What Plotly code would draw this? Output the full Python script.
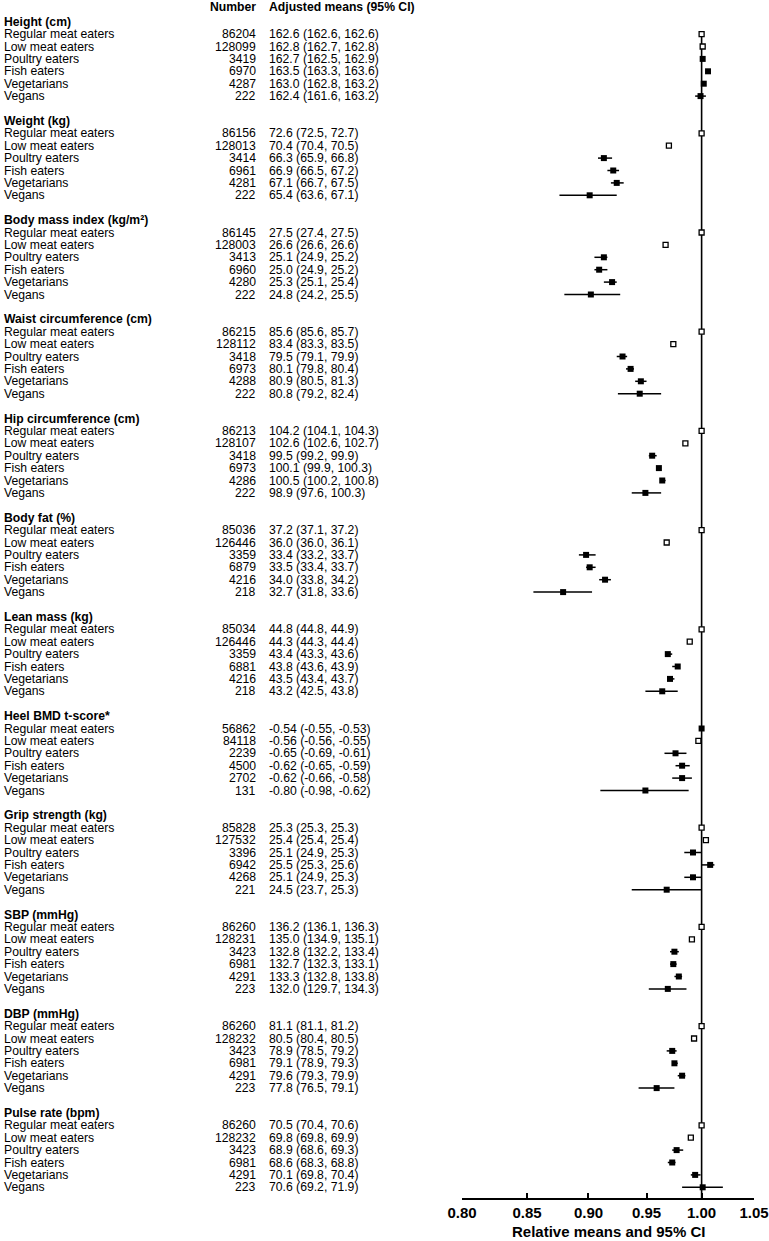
import math
import plotly.graph_objects as go

sections = ["Height (cm)", "Weight (kg)", "Body mass index (kg/m²)", "Waist circumference (cm)",
            "Hip circumference (cm)", "Body fat (%)", "Lean mass (kg)", "Heel BMD t-score*",
            "Grip strength (kg)", "SBP (mmHg)", "DBP (mmHg)", "Pulse rate (bpm)"]
groups = ["Regular meat eaters", "Low meat eaters", "Poultry eaters", "Fish eaters",
          "Vegetarians", "Vegans"]

numbers = [
    [86204, 128099, 3419, 6970, 4287, 222],
    [86156, 128013, 3414, 6961, 4281, 222],
    [86145, 128003, 3413, 6960, 4280, 222],
    [86215, 128112, 3418, 6973, 4288, 222],
    [86213, 128107, 3418, 6973, 4286, 222],
    [85036, 126446, 3359, 6879, 4216, 218],
    [85034, 126446, 3359, 6881, 4216, 218],
    [56862, 84118, 2239, 4500, 2702, 131],
    [85828, 127532, 3396, 6942, 4268, 221],
    [86260, 128231, 3423, 6981, 4291, 223],
    [86260, 128232, 3423, 6981, 4291, 223],
    [86260, 128232, 3423, 6981, 4291, 223],
]

adj_means = [
    ["162.6 (162.6, 162.6)", "162.8 (162.7, 162.8)", "162.7 (162.5, 162.9)",
     "163.5 (163.3, 163.6)", "163.0 (162.8, 163.2)", "162.4 (161.6, 163.2)"],
    ["72.6 (72.5, 72.7)", "70.4 (70.4, 70.5)", "66.3 (65.9, 66.8)",
     "66.9 (66.5, 67.2)", "67.1 (66.7, 67.5)", "65.4 (63.6, 67.1)"],
    ["27.5 (27.4, 27.5)", "26.6 (26.6, 26.6)", "25.1 (24.9, 25.2)",
     "25.0 (24.9, 25.2)", "25.3 (25.1, 25.4)", "24.8 (24.2, 25.5)"],
    ["85.6 (85.6, 85.7)", "83.4 (83.3, 83.5)", "79.5 (79.1, 79.9)",
     "80.1 (79.8, 80.4)", "80.9 (80.5, 81.3)", "80.8 (79.2, 82.4)"],
    ["104.2 (104.1, 104.3)", "102.6 (102.6, 102.7)", "99.5 (99.2, 99.9)",
     "100.1 (99.9, 100.3)", "100.5 (100.2, 100.8)", "98.9 (97.6, 100.3)"],
    ["37.2 (37.1, 37.2)", "36.0 (36.0, 36.1)", "33.4 (33.2, 33.7)",
     "33.5 (33.4, 33.7)", "34.0 (33.8, 34.2)", "32.7 (31.8, 33.6)"],
    ["44.8 (44.8, 44.9)", "44.3 (44.3, 44.4)", "43.4 (43.3, 43.6)",
     "43.8 (43.6, 43.9)", "43.5 (43.4, 43.7)", "43.2 (42.5, 43.8)"],
    ["-0.54 (-0.55, -0.53)", "-0.56 (-0.56, -0.55)", "-0.65 (-0.69, -0.61)",
     "-0.62 (-0.65, -0.59)", "-0.62 (-0.66, -0.58)", "-0.80 (-0.98, -0.62)"],
    ["25.3 (25.3, 25.3)", "25.4 (25.4, 25.4)", "25.1 (24.9, 25.3)",
     "25.5 (25.3, 25.6)", "25.1 (24.9, 25.3)", "24.5 (23.7, 25.3)"],
    ["136.2 (136.1, 136.3)", "135.0 (134.9, 135.1)", "132.8 (132.2, 133.4)",
     "132.7 (132.3, 133.1)", "133.3 (132.8, 133.8)", "132.0 (129.7, 134.3)"],
    ["81.1 (81.1, 81.2)", "80.5 (80.4, 80.5)", "78.9 (78.5, 79.2)",
     "79.1 (78.9, 79.3)", "79.6 (79.3, 79.9)", "77.8 (76.5, 79.1)"],
    ["70.5 (70.4, 70.6)", "69.8 (69.8, 69.9)", "68.9 (68.6, 69.3)",
     "68.6 (68.3, 68.8)", "70.1 (69.8, 70.4)", "70.6 (69.2, 71.9)"],
]

# relative means and 95% CI
rel = [
    [1.000, 1.001, 1.001, 1.006, 1.002, 0.999],
    [1.000, 0.970, 0.913, 0.921, 0.924, 0.901],
    [1.000, 0.967, 0.913, 0.909, 0.920, 0.902],
    [1.000, 0.974, 0.929, 0.936, 0.945, 0.944],
    [1.000, 0.985, 0.955, 0.961, 0.964, 0.949],
    [1.000, 0.968, 0.898, 0.901, 0.914, 0.879],
    [1.000, 0.989, 0.969, 0.978, 0.971, 0.964],
    [1.000, 0.997, 0.976, 0.982, 0.982, 0.949],
    [1.000, 1.004, 0.992, 1.008, 0.992, 0.968],
    [1.000, 0.991, 0.975, 0.974, 0.979, 0.969],
    [1.000, 0.993, 0.973, 0.975, 0.982, 0.959],
    [1.000, 0.990, 0.977, 0.973, 0.994, 1.001],
]
rel_lo = [
    [1.000, 1.001, 0.999, 1.004, 1.001, 0.994],
    [1.000, 0.970, 0.908, 0.916, 0.919, 0.876],
    [1.000, 0.967, 0.905, 0.905, 0.913, 0.880],
    [1.000, 0.973, 0.924, 0.932, 0.940, 0.925],
    [1.000, 0.985, 0.952, 0.959, 0.962, 0.937],
    [1.000, 0.968, 0.892, 0.898, 0.909, 0.855],
    [1.000, 0.989, 0.967, 0.973, 0.969, 0.949],
    [1.000, 0.997, 0.966, 0.976, 0.973, 0.910],
    [1.000, 1.004, 0.984, 1.000, 0.984, 0.937],
    [1.000, 0.990, 0.971, 0.971, 0.975, 0.952],
    [1.000, 0.991, 0.968, 0.973, 0.978, 0.943],
    [1.000, 0.990, 0.973, 0.969, 0.990, 0.982],
]
rel_hi = [
    [1.000, 1.001, 1.002, 1.006, 1.004, 1.004],
    [1.000, 0.971, 0.920, 0.926, 0.930, 0.924],
    [1.000, 0.967, 0.916, 0.916, 0.924, 0.927],
    [1.000, 0.975, 0.933, 0.939, 0.950, 0.963],
    [1.000, 0.986, 0.959, 0.963, 0.967, 0.963],
    [1.000, 0.970, 0.906, 0.906, 0.919, 0.903],
    [1.000, 0.991, 0.973, 0.980, 0.975, 0.978],
    [1.000, 0.997, 0.986, 0.989, 0.991, 0.988],
    [1.000, 1.004, 1.000, 1.012, 1.000, 1.000],
    [1.000, 0.992, 0.979, 0.977, 0.982, 0.986],
    [1.000, 0.993, 0.977, 0.978, 0.985, 0.975],
    [1.000, 0.991, 0.983, 0.976, 0.999, 1.020],
]

# reference row drawn filled in this section
filled_ref_sections = [7]

tick_vals = [0.80, 0.85, 0.90, 0.95, 1.00, 1.05]

FONT = "Arial, Liberation Sans, sans-serif"
W, H = 769, 1241
ML, MR, MT, MB = 462, 15, 0, 43
ROW0, ROWH = 21.7, 12.4          # pixel y of first title row, row height
rows_per_section = 8
TXT = 12.2

plot_h = H - MT - MB
y_top = -ROW0 / ROWH
y_bot = (plot_h - ROW0) / ROWH


def px_to_paper(px):
    return (px - ML) / (W - ML - MR)


fig = go.Figure()

# reference line at 1.00
fig.add_trace(go.Scatter(x=[1.0, 1.0], y=[1, y_bot], mode="lines",
                         line=dict(color="black", width=1.6), hoverinfo="skip"))

ci_x, ci_y = [], []
open_x, open_y, fill_x, fill_y = [], [], [], []
annotations = []

annotations.append(dict(x=px_to_paper(258), y=-1.2, xref="paper", yref="y", text="<b>Number</b>",
                        xanchor="right", showarrow=False, font=dict(size=TXT, family=FONT)))
annotations.append(dict(x=px_to_paper(266.5), y=-1.2, xref="paper", yref="y",
                        text="<b>Adjusted means (95% CI)</b>",
                        xanchor="left", showarrow=False, font=dict(size=TXT, family=FONT)))

for s, title in enumerate(sections):
    base = s * rows_per_section
    annotations.append(dict(x=px_to_paper(2), y=base, xref="paper", yref="y", text="<b>%s</b>" % title,
                            xanchor="left", showarrow=False, font=dict(size=TXT, family=FONT)))
    for g, grp in enumerate(groups):
        r = base + 1 + g
        annotations.append(dict(x=px_to_paper(2), y=r, xref="paper", yref="y", text=grp,
                                xanchor="left", showarrow=False, font=dict(size=TXT, family=FONT)))
        annotations.append(dict(x=px_to_paper(258), y=r, xref="paper", yref="y", text=str(numbers[s][g]),
                                xanchor="right", showarrow=False, font=dict(size=TXT, family=FONT)))
        annotations.append(dict(x=px_to_paper(266.5), y=r, xref="paper", yref="y", text=adj_means[s][g],
                                xanchor="left", showarrow=False, font=dict(size=TXT, family=FONT)))
        ci_x += [rel_lo[s][g], rel_hi[s][g], None]
        ci_y += [r, r, None]
        is_open = g < 2 and not (g == 0 and s in filled_ref_sections)
        if is_open:
            open_x.append(rel[s][g])
            open_y.append(r)
        else:
            fill_x.append(rel[s][g])
            fill_y.append(r)

# axis title placed just under the tick labels
annotations.append(dict(x=0.5, y=-(1231 - (H - MB)) / plot_h, xref="paper", yref="paper",
                        text="<b>Relative means and 95% CI</b>", showarrow=False,
                        xanchor="center", yanchor="middle", font=dict(size=15, family=FONT)))

fig.add_trace(go.Scatter(x=ci_x, y=ci_y, mode="lines", line=dict(color="black", width=1.5),
                         hoverinfo="skip"))
fig.add_trace(go.Scatter(x=fill_x, y=fill_y, mode="markers",
                         marker=dict(symbol="square", size=6, color="black",
                                     line=dict(color="black", width=0))))
fig.add_trace(go.Scatter(x=open_x, y=open_y, mode="markers",
                         marker=dict(symbol="square", size=5, color="white",
                                     line=dict(color="black", width=1.3))))

fig.update_layout(
    width=W, height=H,
    margin=dict(l=ML, r=MR, t=MT, b=MB),
    paper_bgcolor="white", plot_bgcolor="white",
    showlegend=False,
    annotations=annotations,
    font=dict(family=FONT, color="black"),
    xaxis=dict(
        type="log",
        range=[math.log10(0.80), math.log10(1.05)],
        tickvals=tick_vals,
        ticktext=["%.2f" % v for v in tick_vals],
        ticks="inside", ticklen=5, tickwidth=1.5, tickcolor="black",
        showline=True, linecolor="black", linewidth=1.5,
        showgrid=False, zeroline=False,
        tickfont=dict(size=15, family=FONT, weight="bold"),
    ),
    yaxis=dict(visible=False, range=[y_bot, y_top], fixedrange=True),
)

# drop the browser's default body margin so the figure sits at the page origin
fig.write_html("out.html", config={"displayModeBar": False},
               post_script="document.body.style.margin='0';")
